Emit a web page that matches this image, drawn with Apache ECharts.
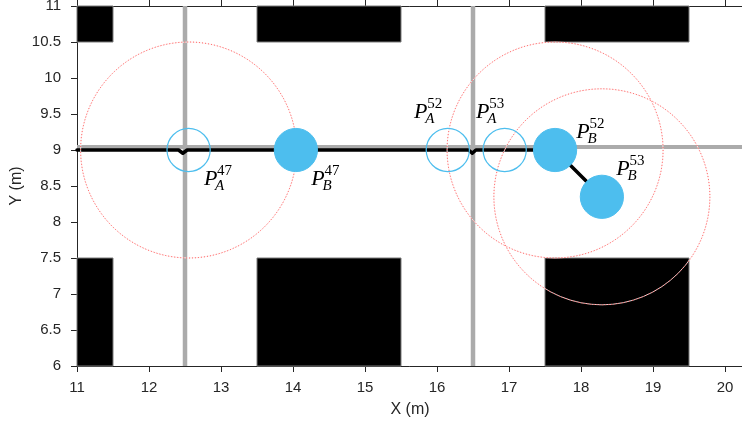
<!DOCTYPE html>
<html><head><meta charset="utf-8">
<script src="https://cdn.jsdelivr.net/npm/echarts@6/dist/echarts.min.js"></script>
<style>html,body{margin:0;padding:0;background:#fff}#c{width:742px;height:423px}</style>
</head><body><div id="c"></div>
<script>
// ---- data ----
const xMin = 11, xMax = 20.25, yMin = 6, yMax = 11;
// obstacles: [x0, x1, y0, y1]
const obstacleX0 = [11, 13.5, 17.5, 11, 13.5, 17.5];
const obstacleX1 = [11.5, 15.5, 19.5, 11.5, 15.5, 19.5];
const obstacleY0 = [10.5, 10.5, 10.5, 6, 6, 6];
const obstacleY1 = [11, 11, 11, 7.5, 7.5, 7.5];
// road centre lines
const roadX = [12.5, 16.5];
const roadY = [9.04];
// travelled path
const pathX = [11, 12.41, 12.47, 12.53, 16.44, 16.49, 16.54, 17.64, 18.29];
const pathY = [9, 9, 8.955, 9, 9, 8.955, 9, 9, 8.35];
// agents
const agentRole = ['A', 'B', 'A', 'A', 'B', 'B'];
const agentStep = ['47', '47', '52', '53', '52', '53'];
const agentX = [12.55, 14.04, 16.15, 16.94, 17.64, 18.29];
const agentY = [9, 9, 9, 9, 9, 8.35];
const agentRadius = 0.3;
// sensing range circles
const rangeX = [12.55, 17.64, 18.29];
const rangeY = [9, 9, 8.35];
const rangeR = 1.5;

// ---- layout (label offsets in px, relative to agent centre) ----
const labelOffset = [[22, 29], [22, 29], [-27, -38], [-22, -38], [28, -18], [21, -28]];

const cyan = '#4DBEEE';
const axisColor = '#262626';
const sans = '"Liberation Sans", Arial, sans-serif';
const serif = '"Liberation Serif", "Times New Roman", serif';

const chart = echarts.init(document.getElementById('c'), null, {renderer: 'canvas'});

const axisCommon = {
  type: 'value',
  axisLine: {show: true, onZero: false, lineStyle: {color: axisColor, width: 1}},
  axisTick: {show: true, inside: false, length: 6, lineStyle: {color: axisColor}},
  splitLine: {show: false}
};

const option = {
  animation: false,
  backgroundColor: '#fff',
  grid: {left: 77, right: -1, top: 6, bottom: 57, containLabel: false, outerBoundsMode: 'none'},
  xAxis: [
    Object.assign({}, axisCommon, {
      min: xMin, max: xMax, interval: 1, position: 'bottom',
      axisLabel: {color: axisColor, fontSize: 15, fontFamily: sans, margin: 14,
        formatter: v => Number.isInteger(v) ? String(v) : ''},
      name: 'X (m)', nameLocation: 'middle', nameGap: 36, nameMoveOverlap: false,
      nameTextStyle: {color: axisColor, fontSize: 16, fontFamily: sans}
    }),
    Object.assign({}, axisCommon, {
      min: xMin, max: xMax, interval: 1, position: 'top',
      axisLabel: {show: false}
    })
  ],
  yAxis: [
    Object.assign({}, axisCommon, {
      min: yMin, max: yMax, interval: 0.5, position: 'left',
      axisLabel: {color: axisColor, fontSize: 15, fontFamily: sans, margin: 16},
      name: 'Y (m)', nameLocation: 'middle', nameGap: 52, nameMoveOverlap: false,
      nameTextStyle: {color: axisColor, fontSize: 16, fontFamily: sans}
    })
  ],
  series: [
    { // vertical roads
      type: 'custom', z: 1, silent: true,
      data: roadX.map(x => [x]),
      encode: {x: 0},
      renderItem: (p, api) => {
        const a = api.coord([api.value(0), yMin]);
        const b = api.coord([api.value(0), yMax]);
        return {type: 'line', shape: {x1: a[0], y1: a[1], x2: b[0], y2: b[1]},
          style: {stroke: '#ababab', lineWidth: 4.5}};
      }
    },
    { // horizontal roads
      type: 'custom', z: 1, silent: true,
      data: roadY.map(y => [xMin, y]),
      encode: {x: 0, y: 1},
      renderItem: (p, api) => {
        const a = api.coord([xMin, api.value(1)]);
        const b = api.coord([xMax, api.value(1)]);
        return {type: 'line', shape: {x1: a[0], y1: a[1], x2: b[0], y2: b[1]},
          style: {stroke: '#ababab', lineWidth: 4}};
      }
    },
    { // path
      type: 'line', z: 2, silent: true,
      data: pathX.map((x, i) => [x, pathY[i]]),
      symbol: 'none',
      lineStyle: {color: '#000', width: 3.5, cap: 'round', join: 'round'}
    },
    { // obstacles
      type: 'custom', z: 3, silent: true,
      data: obstacleX0.map((x, i) => [x, obstacleX1[i], obstacleY0[i], obstacleY1[i]]),
      encode: {x: [0, 1], y: [2, 3]},
      renderItem: (p, api) => {
        const a = api.coord([api.value(0), api.value(3)]);
        const b = api.coord([api.value(1), api.value(2)]);
        return {type: 'rect', shape: {x: a[0], y: a[1], width: b[0] - a[0], height: b[1] - a[1]},
          style: {fill: '#000', stroke: '#7a7a7a', lineWidth: 1}};
      }
    },
    { // range circles
      type: 'custom', z: 4, silent: true,
      data: rangeX.map((x, i) => [x, rangeY[i], rangeR]),
      encode: {x: 0, y: 1},
      renderItem: (p, api) => {
        const c = api.coord([api.value(0), api.value(1)]);
        const s = api.size([api.value(2), api.value(2)]);
        return {type: 'group', children: [
          {type: 'circle', shape: {cx: c[0], cy: c[1], r: s[0]},
            style: {fill: 'none', stroke: 'rgba(255,235,235,0.9)', lineWidth: 1}},
          {type: 'circle', shape: {cx: c[0], cy: c[1], r: s[0]},
            style: {fill: 'none', stroke: 'rgba(255,50,50,0.85)', lineWidth: 1, lineDash: [1, 2]}}
        ]};
      }
    },
    { // agents
      type: 'custom', z: 5, silent: true,
      data: agentX.map((x, i) => [x, agentY[i], agentRadius, agentRole[i] === 'B' ? 1 : 0]),
      encode: {x: 0, y: 1},
      renderItem: (p, api) => {
        const c = api.coord([api.value(0), api.value(1)]);
        const s = api.size([api.value(2), api.value(2)]);
        const filled = api.value(3) === 1;
        return {type: 'circle', shape: {cx: c[0], cy: c[1], r: s[0]},
          style: filled ? {fill: cyan, stroke: cyan, lineWidth: 1}
                        : {fill: 'none', stroke: cyan, lineWidth: 1.2}};
      }
    },
    { // labels
      type: 'custom', z: 6, silent: true,
      data: agentX.map((x, i) => [x, agentY[i]]),
      encode: {x: 0, y: 1},
      renderItem: (p, api) => {
        const i = p.dataIndex;
        const c = api.coord([api.value(0), api.value(1)]);
        const px = c[0] + labelOffset[i][0], py = c[1] + labelOffset[i][1];
        return {type: 'group', children: [
          {type: 'text', x: px, y: py, style: {text: 'P', font: 'italic 22px ' + serif, fill: '#000', align: 'center', verticalAlign: 'middle'}},
          {type: 'text', x: px + 6.5, y: py - 8, style: {text: agentStep[i], font: '15px ' + serif, fill: '#000', align: 'left', verticalAlign: 'middle'}},
          {type: 'text', x: px + 4.5, y: py + 7, style: {text: agentRole[i], font: 'italic 15px ' + serif, fill: '#000', align: 'left', verticalAlign: 'middle'}}
        ]};
      }
    }
  ]
};
chart.setOption(option);
</script>
</body></html>
